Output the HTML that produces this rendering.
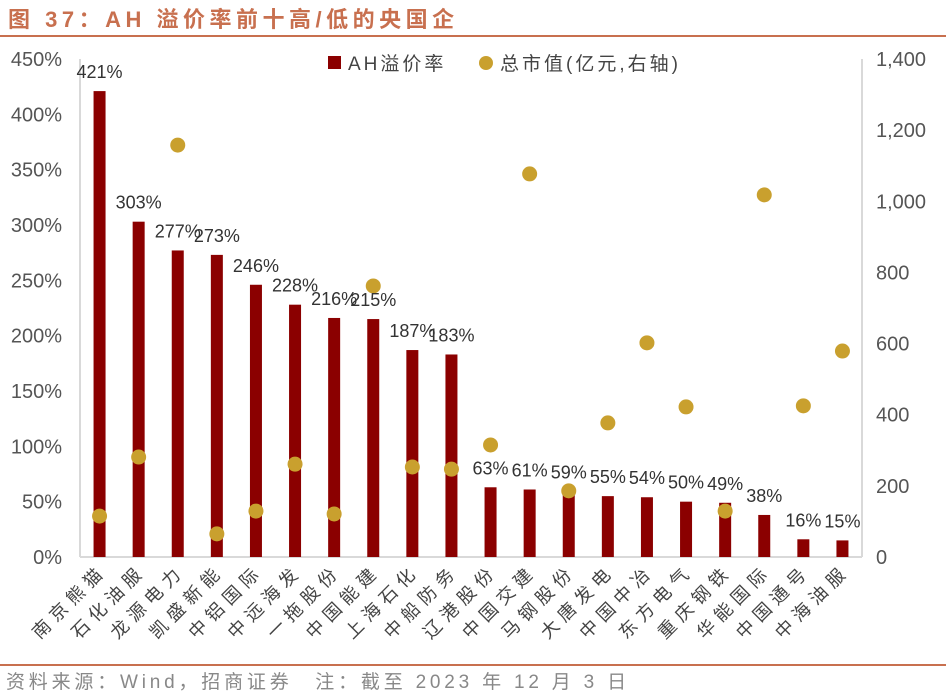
<!DOCTYPE html>
<html><head><meta charset="utf-8">
<style>
body{margin:0;background:#fff;}
svg text{font-family:"Liberation Sans","Noto Sans CJK SC",sans-serif;}
</style></head>
<body>
<svg width="946" height="695" xmlns="http://www.w3.org/2000/svg" id="chart">
<text x="8" y="27" font-size="22" font-weight="bold" fill="#c8704f" letter-spacing="4.5">图 37：AH 溢价率前十高/低的央国企</text>
<line x1="0" y1="36" x2="946" y2="36" stroke="#c8704f" stroke-width="2"/>
<line x1="0" y1="665" x2="946" y2="665" stroke="#c8704f" stroke-width="2"/>
<text x="6" y="688" font-size="19" fill="#888" letter-spacing="3.8">资料来源：Wind，招商证券　注：截至 2023 年 12 月 3 日</text>
<g id="plot"></g>
<g>
<rect x="328" y="56" width="13" height="13" fill="#8b0000"/>
<text x="348" y="70" font-size="19" fill="#444" letter-spacing="3">AH溢价率</text>
<circle cx="486" cy="63" r="7" fill="#c9a02e"/>
<text x="500" y="70" font-size="19" fill="#444" letter-spacing="3">总市值(亿元,右轴)</text>
</g>
</svg>
<script>
const categories=["南京熊猫","石化油服","龙源电力","凯盛新能","中铝国际","中远海发","一拖股份","中国能建","上海石化","中船防务","辽港股份","中国交建","马钢股份","大唐发电","中国中冶","东方电气","重庆钢铁","华能国际","中国通号","中海油服"];
const premium=[421,303,277,273,246,228,216,215,187,183,63,61,59,55,54,50,49,38,16,15];
const marketCap=[115,281,1158,65,129,261,121,762,253,247,315,1077,186,377,602,422,129,1018,425,579];
const leftTicks=[0,50,100,150,200,250,300,350,400,450];
const rightTicks=[0,200,400,600,800,1000,1200,1400];

const NS="http://www.w3.org/2000/svg";
const g=document.getElementById('plot');
const X0=80,X1=862,Y0=557,Y1=59;
const yL=v=>Y0-(v/450)*(Y0-Y1);
const yR=v=>Y0-(v/1400)*(Y0-Y1);
const step=(X1-X0)/categories.length;
const xC=i=>X0+step*(i+0.5);
function mk(tag,attrs){const e=document.createElementNS(NS,tag);for(const k in attrs)e.setAttribute(k,attrs[k]);g.appendChild(e);return e;}

let e=mk('line',{x1:X0,y1:Y1,x2:X0,y2:Y0,stroke:'#d9d9d9','stroke-width':2});


e=mk('line',{x1:X1,y1:Y1,x2:X1,y2:Y0,stroke:'#d9d9d9','stroke-width':2});


e=mk('line',{x1:X0,y1:Y0,x2:X1,y2:Y0,stroke:'#d9d9d9','stroke-width':2});



leftTicks.forEach(t=>{
  const tx=mk('text',{x:X0-18,y:yL(t)+7,'font-size':20,fill:'#555','text-anchor':'end'});
  tx.textContent=t+'%';
  
  
});
rightTicks.forEach(t=>{
  const tx=mk('text',{x:X1+14,y:yR(t)+7,'font-size':20,fill:'#555'});
  tx.textContent=t.toLocaleString('en-US');
  
  
});

categories.forEach((c,i)=>{
  const x=xC(i);
  const b=mk('rect',{x:x-6,y:yL(premium[i]),width:12,height:Y0-yL(premium[i]),fill:'#8b0000'});
  
  
  const d=mk('circle',{cx:x,cy:yR(marketCap[i]),r:7.5,fill:'#c9a02e'});
  
  
  const v=mk('text',{x:x,y:yL(premium[i])-13,'font-size':18,fill:'#333','text-anchor':'middle'});
  v.textContent=premium[i]+'%';
  
  
  const l=mk('text',{x:x+8,y:572,'font-size':18,fill:'#444','text-anchor':'end','letter-spacing':6,transform:`rotate(-45 ${x+8} 572)`});
  l.textContent=c;
  
  
});
</script>
</body></html>
